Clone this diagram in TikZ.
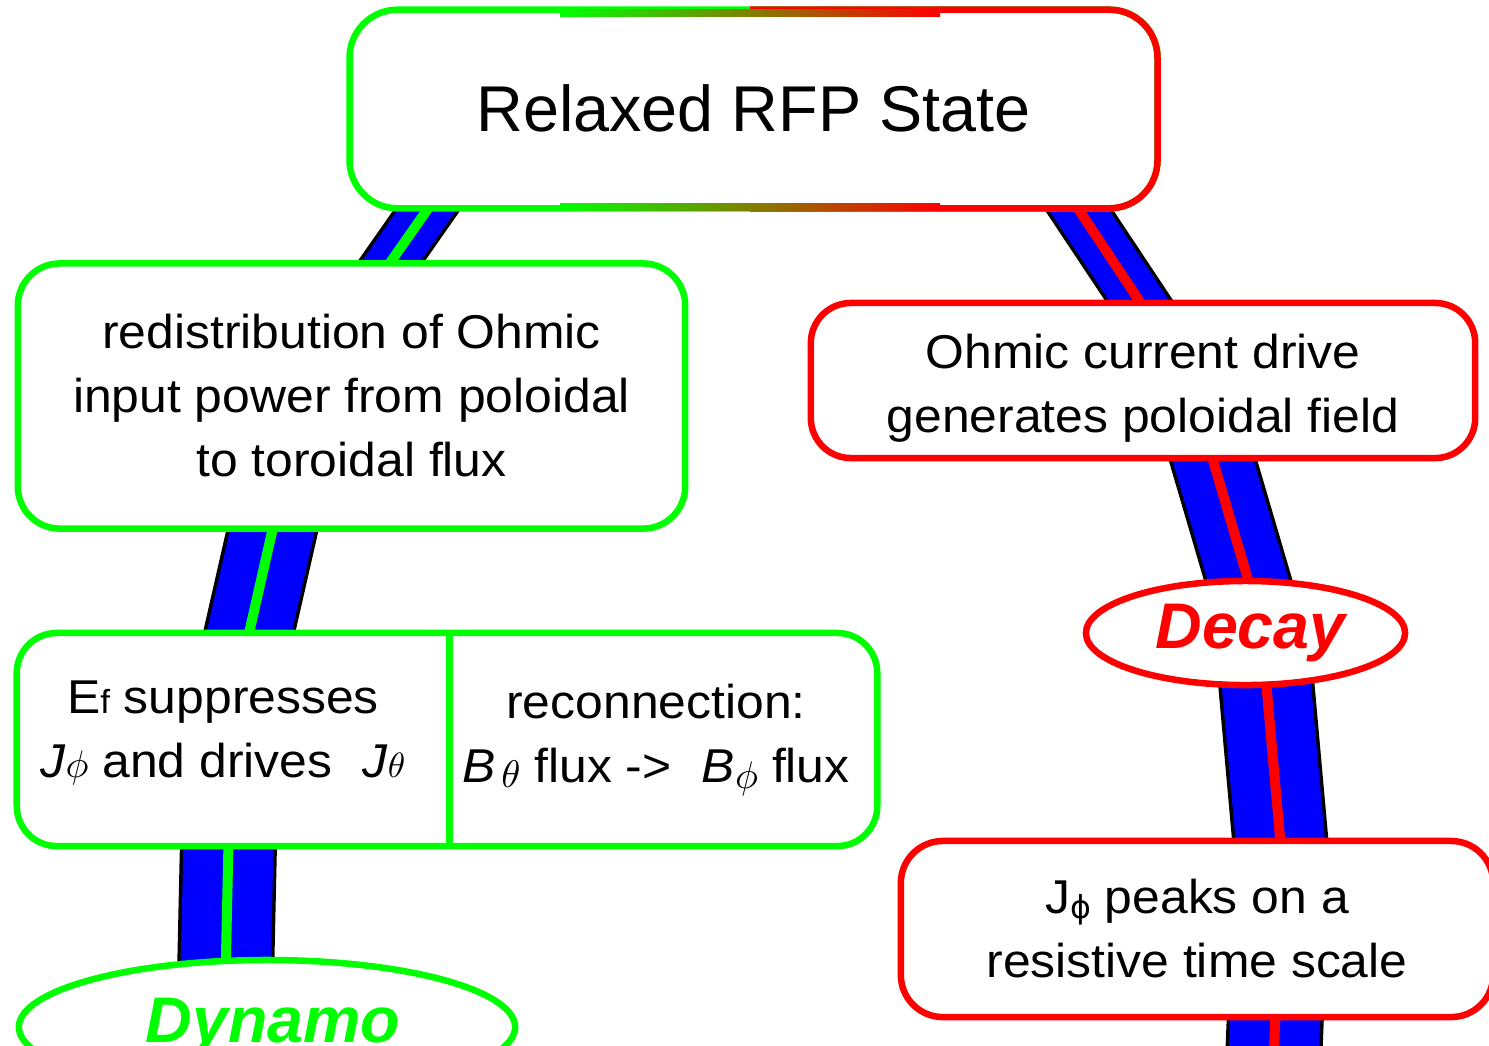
\documentclass[tikz,border=0pt]{standalone}
\usepackage{fontspec}
\setmainfont{Liberation Sans}
\newfontfamily\boxfont[FakeStretch=1.05]{Liberation Sans}
\newfontfamily\phifont{DejaVu Sans}
\usetikzlibrary{shapes.geometric,backgrounds}
\definecolor{lgreen}{RGB}{0,255,0}
\definecolor{lred}{RGB}{255,0,0}
\definecolor{lblue}{RGB}{0,0,255}
\newcommand\bandseg[4]{%
  \draw[black,line width=#1cm] #4;
  \draw[lblue,line width=#2cm] #4;
  \draw[#3,line width=0.1cm] #4;}
\tikzset{
  box/.style={rectangle, rounded corners=0.42cm, line width=0.065cm, fill=white,
    inner sep=0pt, align=center, font=\boxfont\fontsize{13.5}{18.2}\selectfont},
  gbox/.style={box, draw=lgreen},
  rbox/.style={box, draw=lred},
  txt/.style={inner sep=0pt, align=center, font=\boxfont\fontsize{13.5}{18.2}\selectfont},
  oval/.style={ellipse, line width=0.065cm, fill=white, inner sep=0pt,
    font=\fontsize{18.35}{20}\selectfont\bfseries\itshape},
  edge/.style={line width=0.065cm},
}
\begin{document}
\begin{tikzpicture}[x=0.01cm,y=-0.01cm]
\useasboundingbox (0,0) rectangle (1489,1045);

% top box
\node[box, draw=none, rounded corners=0.48cm, minimum width=8.01cm, minimum height=1.94cm,
  font=\fontsize{18.4}{22}\selectfont] (top) at (753.5,108) {Relaxed RFP State};
\path (top.north west) ++(0,2) coordinate (tnw);
\draw[edge, lgreen, rounded corners=0.48cm] (tnw) rectangle (top.south east);
\begin{scope}
  \clip (750,-20) rectangle (1200,260);
  \draw[edge, lred, rounded corners=0.48cm] (tnw) rectangle (top.south east);
\end{scope}
\shade[left color=lgreen, right color=lred] (560,9.75) rectangle (940,16.25);
\shade[left color=lgreen, right color=lred] (560,203.75) rectangle (940,210.25);

% left boxes
\node[gbox, minimum width=6.67cm, minimum height=2.65cm] (L1) at (351.5,396)
  {redistribution of Ohmic\\input power from poloidal\\to toroidal flux};
\node[gbox, rounded corners=0.40cm, minimum width=8.60cm, minimum height=2.13cm] (L2) at (447,739.5) {};
\path (L2.north west) ++(436,0) coordinate (d1);
\draw[edge, lgreen] (d1) -- (d1 |- L2.south);
\node[txt] (L2a) at (223,733)
  {E{\fontsize{9.5}{9.5}\selectfont f} suppresses\\
   {\itshape J}{\fontsize{11}{11}\selectfont$\phi$} and drives\hspace{0.35em} {\itshape J}{\fontsize{10}{10}\selectfont$\theta$}};
\node[txt] (L2b) at (656,740)
  {reconnection:\\
   {\itshape B}\hspace{0.12em}\raisebox{-0.1em}{\fontsize{10.5}{10.5}\selectfont$\theta$} flux ->\hspace{0.35em} {\itshape B}\raisebox{-0.12em}{\fontsize{11}{11}\selectfont$\phi$} flux};
\node[oval, draw=lgreen, text=lgreen, minimum width=4.96cm, minimum height=1.34cm] (dyn) at (267,1027) {\hspace{0.12cm}Dynamo};

% right boxes
\node[rbox, rounded corners=0.40cm, minimum width=6.64cm, minimum height=1.55cm] (R1) at (1143,380.5)
  {\rule{0pt}{0.5cm}Ohmic current drive\\generates poloidal field};
\node[oval, draw=lred, text=lred, minimum width=3.19cm, minimum height=1.04cm] (dec) at (1245.5,633) {\hspace{0.1cm}Decay};
\node[rbox, rounded corners=0.42cm, minimum width=5.92cm, minimum height=1.76cm] (R2) at (1197,929)
  {J\raisebox{-0.1em}{\fontsize{9}{9}\selectfont\phifont ϕ} peaks on a\\resistive time scale};

% band anchor points (hidden inside the boxes)
\coordinate (l0) at (448,180);  \coordinate (l1) at (371,290);
\coordinate (l2) at (277,510);  \coordinate (l3) at (244,655);
\coordinate (l4) at (229,820);  \coordinate (l5) at (225,1000);
\coordinate (r0) at (1059,180); \coordinate (r1) at (1152,320);
\coordinate (r2) at (1207,440); \coordinate (r3) at (1254,600);
\coordinate (r4) at (1265,670); \coordinate (r5) at (1282,860);
\coordinate (r6) at (1276,1000);\coordinate (r7) at (1273,1075);

\begin{pgfonlayer}{background}
  \bandseg{0.55}{0.48}{lgreen}{(l0) -- (l1)}
  \bandseg{0.90}{0.83}{lgreen}{(l2) -- (l3)}
  \bandseg{0.97}{0.90}{lgreen}{(l4) -- (l5)}
  \bandseg{0.57}{0.50}{lred}{(r0) -- (r1)}
  \bandseg{0.85}{0.78}{lred}{(r2) -- (r3)}
  \bandseg{0.96}{0.89}{lred}{(r4) -- (r5)}
  \bandseg{0.97}{0.90}{lred}{(r6) -- (r7)}
\end{pgfonlayer}
\end{tikzpicture}
\end{document}
